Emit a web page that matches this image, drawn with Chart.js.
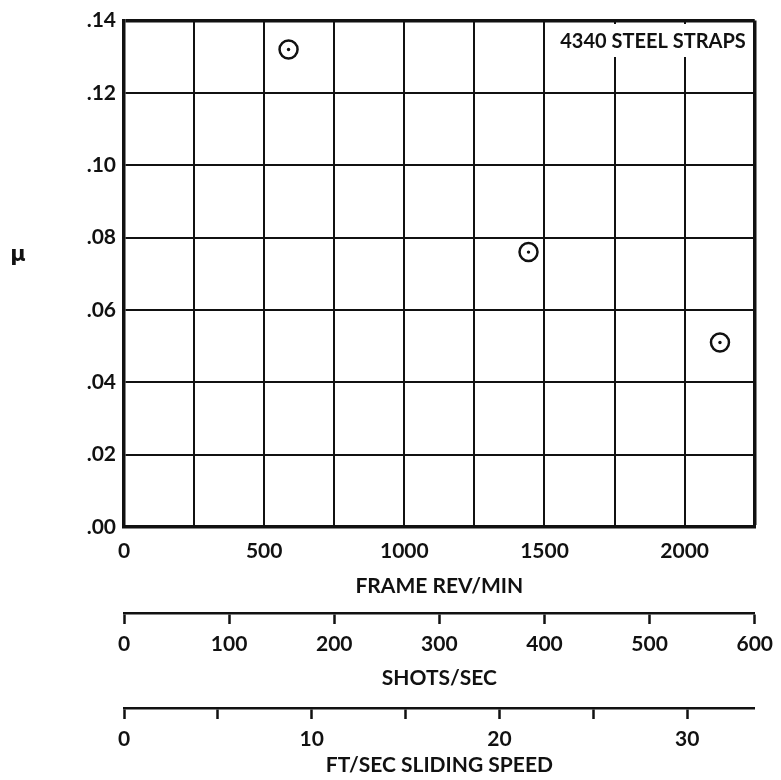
<!DOCTYPE html>
<html>
<head>
<meta charset="utf-8">
<script src="https://cdn.jsdelivr.net/npm/chart.js@4.4.1/dist/chart.umd.min.js"></script>
<style>
  body { margin: 0; background: #fff; }
  canvas { display: block; }
</style>
</head>
<body>
<canvas id="chart" width="781" height="780"></canvas>
<script>
// values
const revPerMin = [587, 1443, 2126];
const mu = [0.132, 0.076, 0.051];

// tick labels
const yTickLabels = ['.00', '.02', '.04', '.06', '.08', '.10', '.12', '.14'];
const revTickLabels = [0, 500, 1000, 1500, 2000];
const shotsTickLabels = [0, 100, 200, 300, 400, 500, 600];
const ftTickLabels = [0, 10, 20, 30];

const annotationText = '4340 STEEL STRAPS';
const yTitle = 'μ';

const FONT = 'Lato, "Open Sans", sans-serif';
const INK = '#111';

const points = revPerMin.map((x, i) => ({ x: x, y: mu[i] }));

const tickFont = { family: FONT, size: 21, weight: 'bold' };
const titleFont = { family: FONT, size: 21, weight: 'bold' };

const extras = {
  id: 'extras',
  afterDraw(chart) {
    const ctx = chart.ctx;
    const area = chart.chartArea;
    ctx.save();
    // label in the top right cell
    ctx.fillStyle = '#fff';
    ctx.fillRect(550, 24, area.right - 552, 33);
    ctx.fillStyle = INK;
    ctx.font = 'bold 20px ' + FONT;
    ctx.textAlign = 'right';
    ctx.textBaseline = 'middle';
    ctx.fillText(annotationText, area.right - 9, 42);
    // mu, not rotated
    ctx.font = 'bold 21px "DejaVu Sans", sans-serif';
    ctx.textAlign = 'center';
    ctx.fillText(yTitle, 18, 256);
    ctx.restore();
  }
};

new Chart(document.getElementById('chart'), {
  type: 'scatter',
  data: {
    datasets: [
      {
        data: points,
        pointRadius: 1.7,
        pointBorderWidth: 0,
        pointBackgroundColor: INK
      },
      {
        data: points,
        pointStyle: 'circle',
        pointRadius: 9,
        pointBorderWidth: 2.5,
        pointBorderColor: INK,
        pointBackgroundColor: '#fff'
      }
    ]
  },
  options: {
    responsive: false,
    animation: false,
    devicePixelRatio: 1,
    layout: { padding: { left: 0, right: 21, top: 18, bottom: 0 } },
    plugins: {
      legend: { display: false },
      tooltip: { enabled: false }
    },
    scales: {
      y: {
        min: 0,
        max: 0.14,
        afterFit(scale) { scale.width = 124; },
        ticks: {
          stepSize: 0.02,
          padding: 8,
          color: INK,
          font: tickFont,
          callback: (v, i) => yTickLabels[i]
        },
        grid: {
          color: INK,
          lineWidth: ctx => (ctx.tick && Math.abs(ctx.tick.value - 0.14) < 1e-6) ? 3.5 : 2,
          drawTicks: false
        },
        border: { color: INK, width: 3.5 }
      },
      x: {
        type: 'linear',
        position: 'bottom',
        weight: 0,
        min: 0,
        max: 2250,
        afterFit(scale) { scale.height = 86; },
        ticks: {
          stepSize: 250,
          padding: 12,
          maxRotation: 0,
          autoSkip: false,
          color: INK,
          font: tickFont,
          callback: v => revTickLabels.includes(v) ? String(v) : ''
        },
        grid: {
          color: INK,
          lineWidth: ctx => (ctx.tick && ctx.tick.value === 2250) ? 3.5 : 2,
          drawTicks: false
        },
        border: { color: INK, width: 3.5 },
        title: {
          display: true,
          text: 'FRAME REV/MIN',
          color: INK,
          font: titleFont,
          padding: { top: 0, bottom: 14 }
        }
      },
      x2: {
        type: 'linear',
        position: 'bottom',
        weight: 1,
        min: 0,
        max: 600,
        afterFit(scale) { scale.height = 95; },
        ticks: {
          stepSize: 100,
          padding: 8,
          maxRotation: 0,
          autoSkip: false,
          color: INK,
          font: tickFont,
          callback: v => shotsTickLabels.includes(v) ? String(v) : ''
        },
        grid: {
          drawOnChartArea: false,
          drawTicks: true,
          tickLength: 11,
          tickColor: INK,
          tickWidth: 2.5
        },
        border: { color: INK, width: 2.5 },
        title: {
          display: true,
          text: 'SHOTS/SEC',
          color: INK,
          font: titleFont,
          padding: { top: 0, bottom: 17 }
        }
      },
      x3: {
        type: 'linear',
        position: 'bottom',
        weight: 2,
        min: 0,
        max: 33.6,
        afterFit(scale) { scale.height = 72; },
        ticks: {
          stepSize: 5,
          includeBounds: false,
          padding: 8,
          maxRotation: 0,
          autoSkip: false,
          color: INK,
          font: tickFont,
          callback: v => ftTickLabels.includes(v) ? String(v) : ''
        },
        grid: {
          drawOnChartArea: false,
          drawTicks: true,
          tickLength: 11,
          tickColor: INK,
          tickWidth: 2.5
        },
        border: { color: INK, width: 2.5 },
        title: {
          display: true,
          text: 'FT/SEC SLIDING SPEED',
          color: INK,
          font: titleFont,
          padding: { top: 0, bottom: 2 }
        }
      }
    }
  },
  plugins: [extras]
});
</script>
</body>
</html>
